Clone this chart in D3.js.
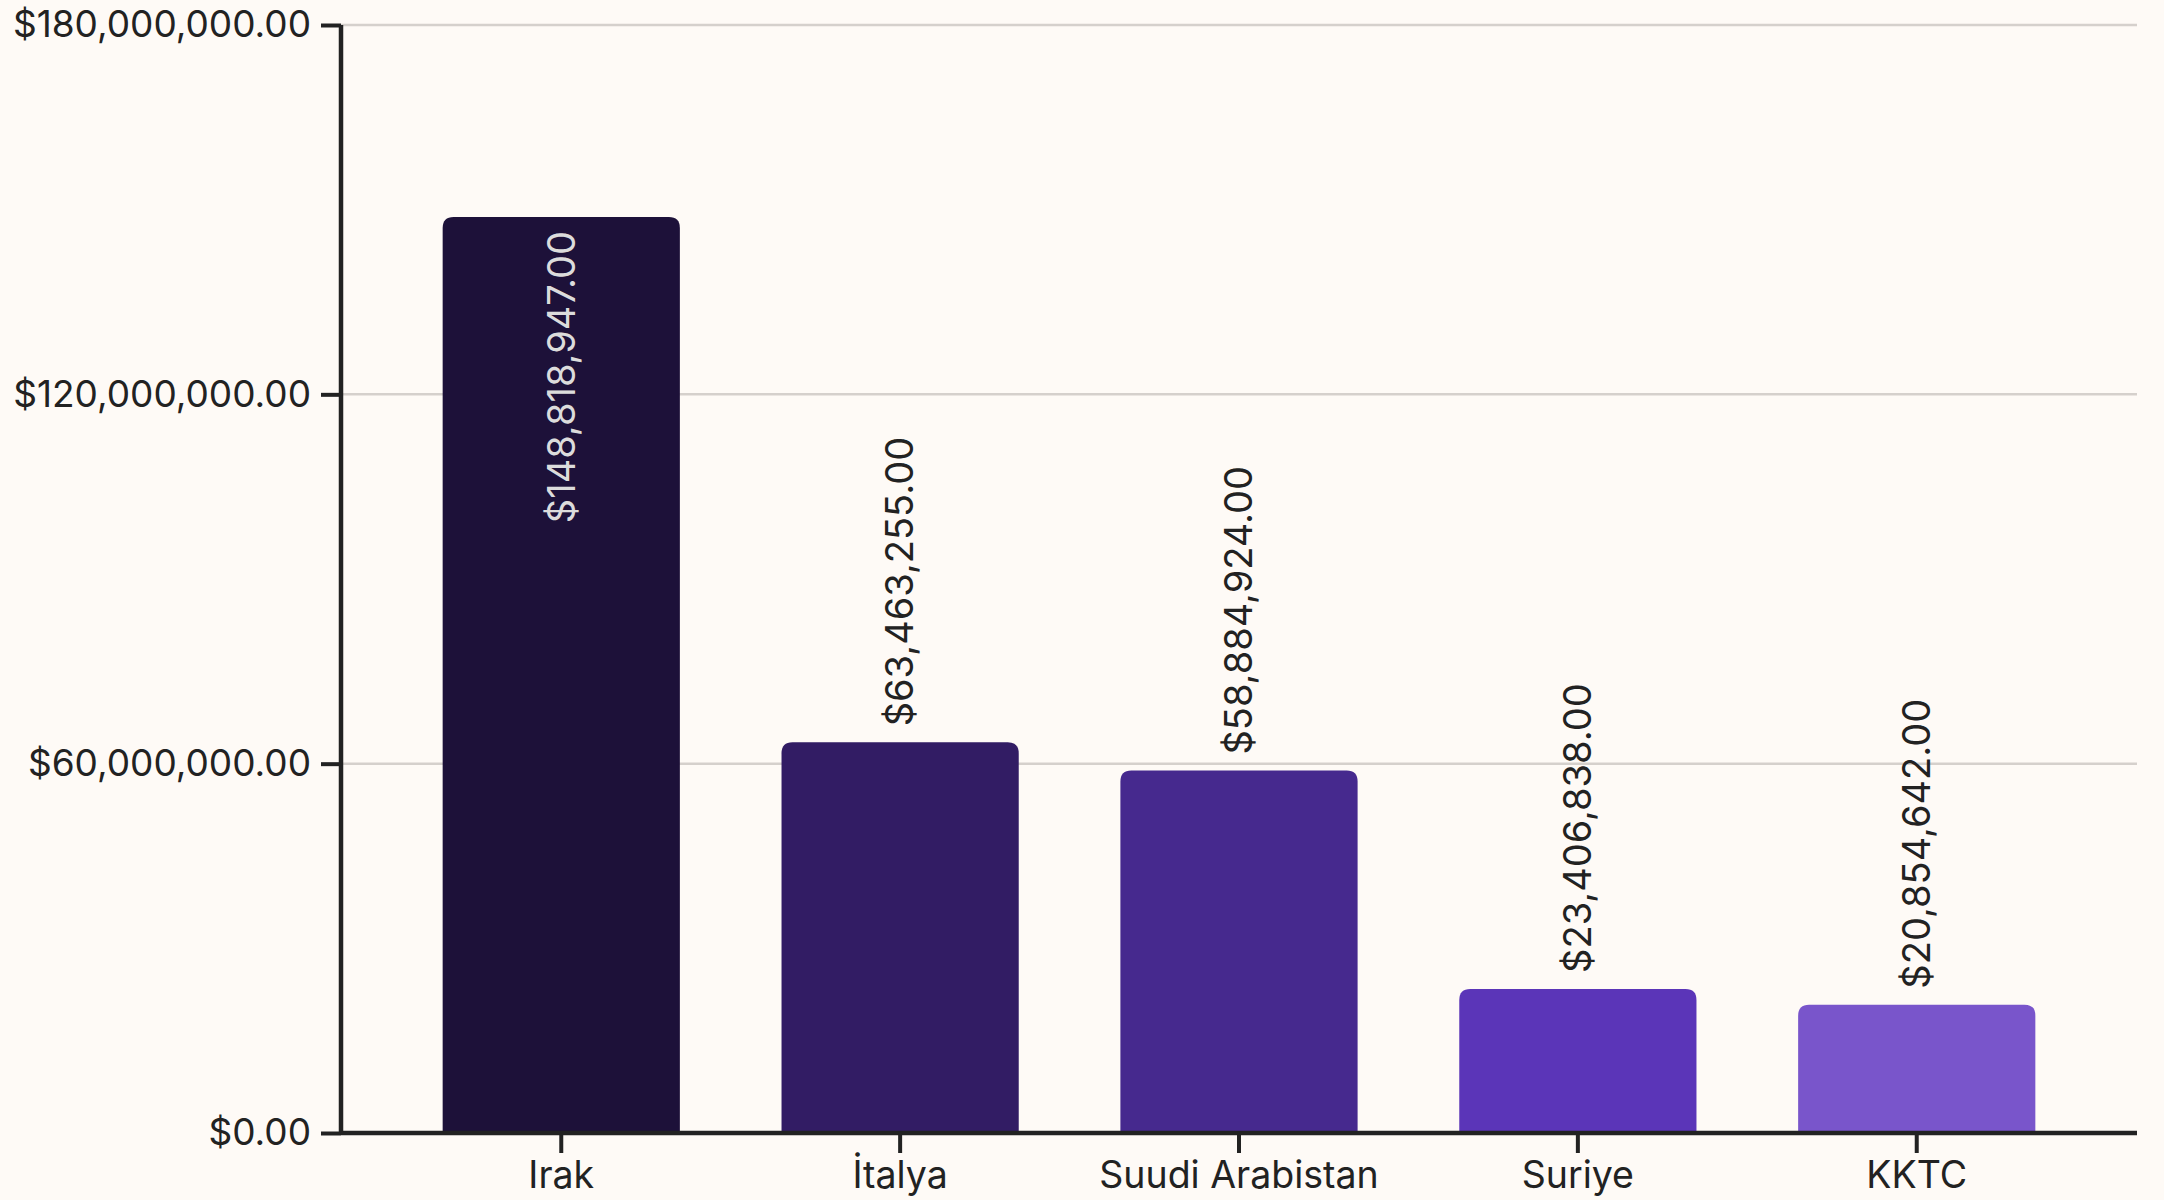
<!DOCTYPE html>
<html>
<head>
<meta charset="utf-8">
<script src="https://cdn.jsdelivr.net/npm/d3@7"></script>
<style>
  html, body { margin: 0; padding: 0; background: #fefaf6; }
  text { font-family: Inter, "Noto Sans", sans-serif; }
</style>
</head>
<body>
<div id="chart-area"></div>
<script>
var countries = ["Irak", "İtalya", "Suudi Arabistan", "Suriye", "KKTC"];
var amounts = [148818947, 63463255, 58884924, 23406838, 20854642];
var barColors = ["#1d1139", "#321c64", "#46298e", "#5b35b8", "#7955cb"];
var yTicks = [0, 60000000, 120000000, 180000000];

var margin = {top: 25, right: 27, bottom: 67, left: 341},
    width = 2164 - margin.left - margin.right,
    height = 1200 - margin.top - margin.bottom;

var svg = d3.select("#chart-area")
  .append("svg")
    .attr("width", width + margin.left + margin.right)
    .attr("height", height + margin.top + margin.bottom)
  .append("g")
    .attr("transform", "translate(" + margin.left + "," + margin.top + ")");

var data = countries.map(function(c, i) {
  return {country: c, amount: amounts[i], color: barColors[i]};
});

var money = d3.format("$,.2f");

var x = d3.scaleBand()
  .domain(countries)
  .range([0, width])
  .paddingInner(0.3)
  .paddingOuter(0.3);

var y = d3.scaleLinear()
  .domain([0, 180000000])
  .range([height, 0]);

// grid lines
svg.append("g")
  .selectAll("line")
  .data(yTicks.slice(1))
  .enter()
  .append("line")
    .attr("x1", 0)
    .attr("x2", width)
    .attr("y1", function(d) { return y(d); })
    .attr("y2", function(d) { return y(d); })
    .attr("stroke", "#d5d0cc")
    .attr("stroke-width", 2.5);

// bars with rounded tops
var r = 11;
function barPath(d) {
  var x0 = x(d.country), x1 = x0 + x.bandwidth(),
      y0 = y(d.amount), yb = y(0);
  return "M" + x0 + "," + yb +
    "V" + (y0 + r) +
    "Q" + x0 + "," + y0 + " " + (x0 + r) + "," + y0 +
    "H" + (x1 - r) +
    "Q" + x1 + "," + y0 + " " + x1 + "," + (y0 + r) +
    "V" + yb + "Z";
}

svg.append("g")
  .selectAll("path")
  .data(data)
  .enter()
  .append("path")
    .attr("d", barPath)
    .attr("fill", function(d) { return d.color; });

// value labels
var labelSize = 38;
svg.append("g")
  .selectAll("text")
  .data(data)
  .enter()
  .append("text")
    .attr("font-size", labelSize + "px")
    .attr("dy", "0.35em")
    .each(function(d) {
      var t = d3.select(this).text(money(d.amount));
      var len = this.getComputedTextLength();
      var top = y(d.amount);
      var inside = top - 16 - len < 0;
      var cx = x(d.country) + x.bandwidth() / 2;
      t.attr("text-anchor", inside ? "end" : "start")
       .attr("fill", inside ? "#dcdcdc" : "#222")
       .attr("transform", "translate(" + cx + "," + (inside ? top + 14 : top - 16) + ") rotate(-90)");
    });

// x axis
var xAxis = svg.append("g")
  .attr("transform", "translate(0," + height + ")")
  .call(d3.axisBottom(x).tickSize(20).tickPadding(8));
xAxis.selectAll("text").attr("font-size", "37.5px").attr("fill", "#222").attr("font-family", "Inter");
xAxis.selectAll("line").attr("stroke", "#222").attr("stroke-width", 4);
xAxis.select(".domain").attr("stroke", "#222").attr("stroke-width", 4.5).attr("d", "M0,0H" + width);

// y axis
var yAxis = svg.append("g")
  .call(d3.axisLeft(y).tickValues(yTicks).tickFormat(money).tickSize(20).tickPadding(10));
yAxis.selectAll("text").attr("font-size", "37px").attr("fill", "#222").attr("font-family", "Inter");
yAxis.selectAll("line").attr("stroke", "#222").attr("stroke-width", 4);
yAxis.select(".domain").attr("stroke", "#222").attr("stroke-width", 4.5).attr("d", "M0,0V" + height);
</script>
</body>
</html>
